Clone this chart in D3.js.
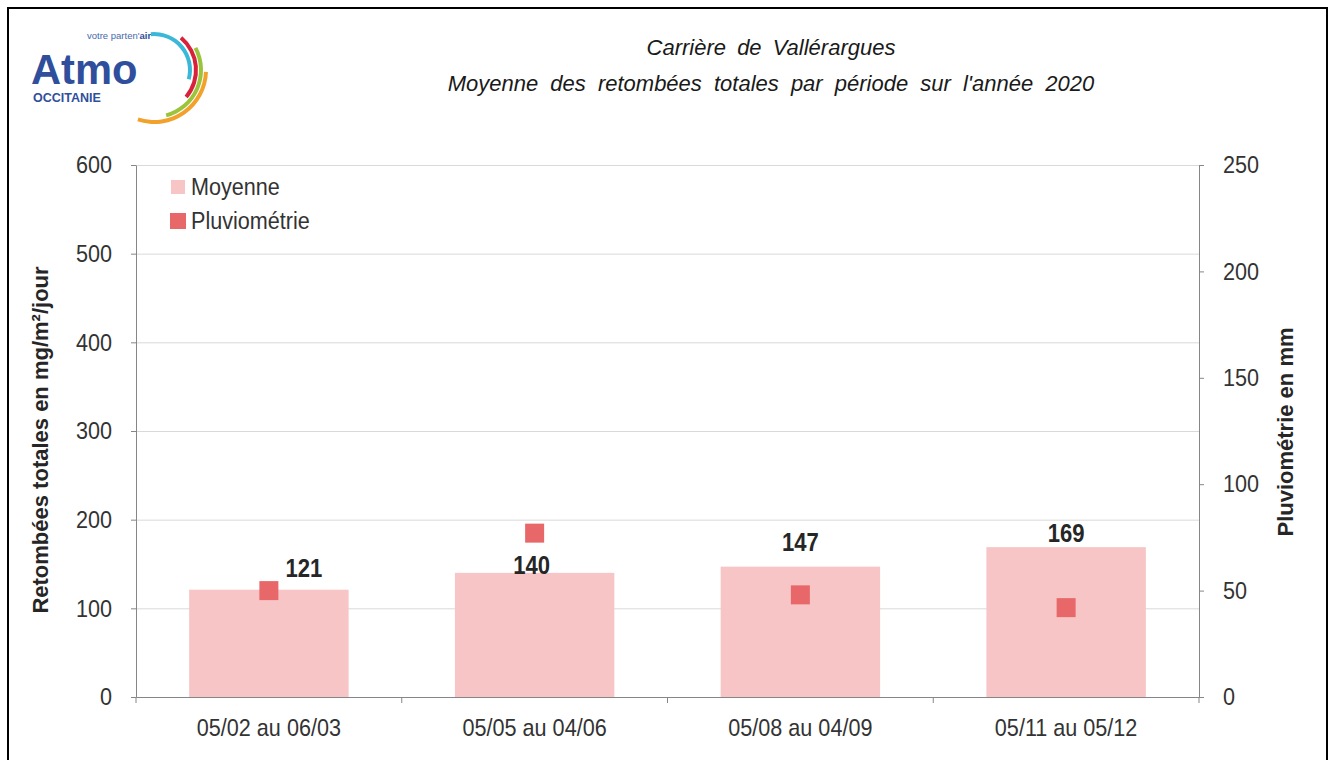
<!DOCTYPE html>
<html>
<head>
<meta charset="utf-8">
<script src="https://cdn.jsdelivr.net/npm/d3@7"></script>
<style>
  body { margin: 0; background: #fff; }
  svg { display: block; font-family: "Liberation Sans", Arial, sans-serif; }
</style>
</head>
<body>
<script>
// data
const periods = ['05/02 au 06/03', '05/05 au 04/06', '05/08 au 04/09', '05/11 au 05/12'];
const moyenne = [121, 140, 147, 169];
const pluvio = [50, 77, 48, 42];
const leftTicks = [0, 100, 200, 300, 400, 500, 600];
const rightTicks = [0, 50, 100, 150, 200, 250];

// label nudges (layout only, px from bar top centre)
const labelNudge = [[35, -22], [-3, -8], [0, -25], [0, -14]];

const W = 1335, H = 760;
const plot = {left: 136, right: 1199, top: 165, bottom: 697};
const squash = 0.9; // text in the original is a little condensed

const barColor = '#f7c5c5',
    markColor = '#e8686a',
    textColor = '#333';

const svg = d3.select('body').append('svg')
    .attr('width', W)
    .attr('height', H);

// frame
svg.append('rect')
    .attr('x', 8).attr('y', 8)
    .attr('width', 1319).attr('height', H)
    .attr('fill', 'none')
    .attr('stroke', '#000')
    .attr('stroke-width', 2);

const x = d3.scaleBand()
    .domain(periods)
    .range([plot.left, plot.right])
    .paddingInner(0.4)
    .paddingOuter(0.2);

const y = d3.scaleLinear().domain([0, 600]).range([plot.bottom, plot.top]);
const y2 = d3.scaleLinear().domain([0, 250]).range([plot.bottom, plot.top]);

// logo
const logo = svg.append('g').attr('class', 'logo');
logo.append('text')
    .attr('transform', 'translate(31,84) scale(0.97,1)')
    .attr('font-size', 43).attr('font-weight', 'bold')
    .attr('fill', '#2f4f9c')
    .text('Atmo');
logo.append('text')
    .attr('x', 87).attr('y', 39)
    .attr('font-size', 9.5)
    .attr('fill', '#4769ad')
    .text('votre parten\'')
    .append('tspan').attr('font-weight', 'bold').attr('fill', '#2f4f9c').text('air');
logo.append('text')
    .attr('x', 33).attr('y', 102)
    .attr('font-size', 12.5).attr('font-weight', 'bold')
    .attr('fill', '#2f4f9c')
    .text('OCCITANIE');

const arcs = [
    {r: 36, a0: -5, a1: 105, c: '#3bb8d8'},
    {r: 42, a0: 40, a1: 130, c: '#d8213a'},
    {r: 47, a0: 62, a1: 165, c: '#9bc43a'},
    {r: 52, a0: 92, a1: 198, c: '#f2a12b'}
];
const arcGen = d3.arc();
logo.selectAll('path.ring')
    .data(arcs)
    .join('path')
    .attr('class', 'ring')
    .attr('transform', 'translate(154,70)')
    .attr('d', d => arcGen({
        innerRadius: d.r - 2,
        outerRadius: d.r + 2,
        startAngle: d.a0 * Math.PI / 180,
        endAngle: d.a1 * Math.PI / 180,
        cornerRadius: 2
    }))
    .attr('fill', d => d.c);

// title
const title = svg.append('g')
    .attr('font-size', 22)
    .attr('font-style', 'italic')
    .attr('fill', '#1a1a1a')
    .attr('text-anchor', 'middle')
    .style('word-spacing', '5px');
title.append('text').attr('x', 771).attr('y', 55).text('Carrière de Vallérargues');
title.append('text').attr('x', 771).attr('y', 91)
    .style('word-spacing', '6px')
    .text('Moyenne des retombées totales par période sur l\'année 2020');

// grid
svg.append('g')
    .attr('class', 'grid')
    .selectAll('line')
    .data(leftTicks.filter(d => d > 0))
    .join('line')
    .attr('x1', plot.left).attr('x2', plot.right)
    .attr('y1', d => y(d) + 0.5).attr('y2', d => y(d) + 0.5)
    .attr('stroke', '#d9d9d9');

// bars
svg.append('g')
    .selectAll('rect')
    .data(moyenne)
    .join('rect')
    .attr('x', (d, i) => x(periods[i]))
    .attr('y', d => y(d))
    .attr('width', x.bandwidth())
    .attr('height', d => y(0) - y(d))
    .attr('fill', barColor);

// pluviometrie markers
const mk = 19;
svg.append('g')
    .selectAll('rect')
    .data(pluvio)
    .join('rect')
    .attr('x', (d, i) => x(periods[i]) + x.bandwidth() / 2 - mk / 2)
    .attr('y', d => y2(d) - mk / 2)
    .attr('width', mk)
    .attr('height', mk)
    .attr('fill', markColor);

// value labels
svg.append('g')
    .selectAll('text')
    .data(moyenne)
    .join('text')
    .attr('transform', (d, i) => {
        const cx = x(periods[i]) + x.bandwidth() / 2 + labelNudge[i][0];
        const cy = y(d) + labelNudge[i][1] + 9;
        return `translate(${cx},${cy}) scale(0.85,1)`;
    })
    .attr('text-anchor', 'middle')
    .attr('font-size', 26)
    .attr('font-weight', 'bold')
    .attr('fill', '#262626')
    .text(d => d);

// axes
const styleAxis = (g, dx) => {
    g.select('.domain').attr('stroke', '#868686');
    g.selectAll('.tick line').attr('stroke', '#868686');
    g.selectAll('.tick text')
        .attr('fill', textColor)
        .attr('font-size', 24)
        .attr('font-family', '"Liberation Sans", Arial, sans-serif')
        .attr('transform', `scale(${squash},1)`)
        .attr('x', dx / squash);
};

svg.append('g')
    .attr('transform', `translate(${plot.left},0)`)
    .call(d3.axisLeft(y).tickValues(leftTicks).tickSize(5).tickSizeOuter(0))
    .call(g => styleAxis(g, -24));

svg.append('g')
    .attr('transform', `translate(${plot.right},0)`)
    .call(d3.axisRight(y2).tickValues(rightTicks).tickSize(5).tickSizeOuter(0))
    .call(g => styleAxis(g, 24));

const xAxis = svg.append('g')
    .attr('transform', `translate(0,${plot.bottom})`)
    .call(d3.axisBottom(x).tickSize(0).tickPadding(22).tickSizeOuter(0));
xAxis.select('.domain').attr('stroke', '#868686');
xAxis.selectAll('.tick text')
    .attr('fill', textColor)
    .attr('font-size', 24)
    .attr('font-family', '"Liberation Sans", Arial, sans-serif')
    .attr('transform', `scale(${squash},1)`);
xAxis.selectAll('.tick')
    .each(function(d) {
        // keep label centred after squashing
        d3.select(this).attr('transform', 'translate(0,0)')
            .select('text')
            .attr('x', (x(d) + x.bandwidth() / 2) / squash);
    });

// category separator ticks
xAxis.append('g')
    .selectAll('line')
    .data(d3.range(periods.length + 1))
    .join('line')
    .attr('x1', i => x.range()[0] + i * x.step())
    .attr('x2', i => x.range()[0] + i * x.step())
    .attr('y1', 0).attr('y2', 6)
    .attr('stroke', '#868686');

// axis titles
svg.append('text')
    .attr('transform', 'translate(48,440) rotate(-90)')
    .attr('text-anchor', 'middle')
    .attr('font-size', 22)
    .attr('font-weight', 'bold')
    .attr('fill', '#262626')
    .text('Retombées totales en mg/m²/jour');

svg.append('text')
    .attr('transform', 'translate(1293,432) rotate(-90)')
    .attr('text-anchor', 'middle')
    .attr('font-size', 22)
    .attr('font-weight', 'bold')
    .attr('fill', '#262626')
    .text('Pluviométrie en mm');

// legend
const legend = svg.append('g').attr('class', 'legend');
const legendItems = [
    {label: 'Moyenne', color: barColor, size: 14, cy: 187},
    {label: 'Pluviométrie', color: markColor, size: 16, cy: 221}
];
legendItems.forEach(it => {
    legend.append('rect')
        .attr('x', 178 - it.size / 2)
        .attr('y', it.cy - it.size / 2)
        .attr('width', it.size)
        .attr('height', it.size)
        .attr('fill', it.color);
    legend.append('text')
        .attr('transform', `translate(191,${it.cy + 8}) scale(${squash},1)`)
        .attr('font-size', 24)
        .attr('fill', textColor)
        .text(it.label);
});
</script>
</body>
</html>
